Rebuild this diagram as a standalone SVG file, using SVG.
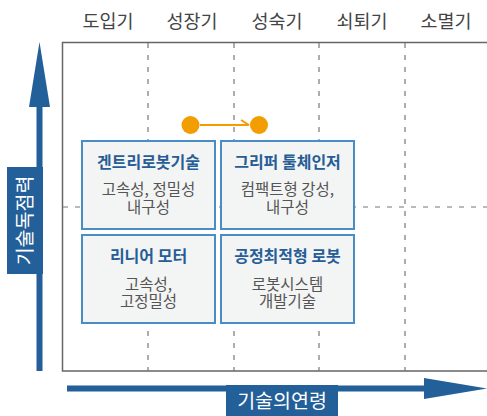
<svg xmlns="http://www.w3.org/2000/svg" width="487" height="416" viewBox="0 0 487 416">
<defs>
<style>
.grid{stroke:#777;stroke-width:1.2;stroke-dasharray:5,7;fill:none}
.stage{font-family:"Noto Sans CJK KR","Noto Sans",sans-serif;font-size:18.5px;fill:#444;text-anchor:middle}
.box{fill:#f3f4f4;stroke:#4a8cc4;stroke-width:2}
.title{font-family:"Noto Sans CJK KR",sans-serif;font-size:16px;font-weight:bold;fill:#275d96;text-anchor:middle}
.body{font-family:"Noto Sans CJK KR",sans-serif;font-size:15.5px;fill:#555;text-anchor:middle}
.axislabel{font-family:"Noto Sans CJK KR",sans-serif;font-size:19.5px;fill:#fff;text-anchor:middle}
</style>
<marker id="chev" markerWidth="12" markerHeight="12" refX="10" refY="6" orient="auto" markerUnits="userSpaceOnUse">
<path d="M2,1 L10,6" stroke="#f29d00" stroke-width="2" fill="none"/>
</marker>
</defs>
<rect width="487" height="416" fill="#fff"/>
<g id="stages">
<text class="stage" x="108" y="28">도입기</text>
<text class="stage" x="192" y="28">성장기</text>
<text class="stage" x="277" y="28">성숙기</text>
<text class="stage" x="362" y="28">쇠퇴기</text>
<text class="stage" x="446" y="28">소멸기</text>
</g>
<g id="frame">
<path d="M488,42.5 H62.5 V371 H488" fill="none" stroke="#666" stroke-width="1.5"/>
<line class="grid" x1="148" y1="43" x2="148" y2="371"/>
<line class="grid" x1="234" y1="43" x2="234" y2="371"/>
<line class="grid" x1="319" y1="43" x2="319" y2="371"/>
<line class="grid" x1="405" y1="43" x2="405" y2="371"/>
<line class="grid" x1="63" y1="207" x2="487" y2="207"/>
</g>
<g id="y-axis">
<line x1="39.5" y1="371" x2="39.5" y2="100" stroke="#235f98" stroke-width="6"/>
<polygon points="39.5,42 50,107 29,107" fill="#235f98"/>
<rect x="7" y="167" width="36" height="107" fill="#235f98"/>
<text class="axislabel" transform="translate(32,220.5) rotate(-90)">기술독점력</text>
</g>
<g id="x-axis">
<line x1="67" y1="388.5" x2="430" y2="388.5" stroke="#235f98" stroke-width="6"/>
<polygon points="487,388.5 424,378 424,399" fill="#235f98"/>
<rect x="226" y="385" width="112" height="31" fill="#235f98"/>
<text class="axislabel" x="282" y="408">기술의연령</text>
</g>
<g id="connectors">
<line x1="200" y1="125" x2="249" y2="125" stroke="#f29d00" stroke-width="2" marker-end="url(#chev)"/>
</g>
<g id="dot1"><circle cx="190.5" cy="125" r="9" fill="#f29d00"/></g>
<g id="dot2"><circle cx="259" cy="125" r="9" fill="#f29d00"/></g>
<g id="node-gantry">
<rect class="box" x="82" y="141" width="133" height="88"/>
<text class="title" x="148.5" y="167.5">겐트리로봇기술</text>
<text class="body" x="148.5" y="195">고속성, 정밀성</text>
<text class="body" x="148.5" y="213">내구성</text>
</g>
<g id="node-gripper">
<rect class="box" x="221" y="141" width="133" height="88"/>
<text class="title" x="287.5" y="167.5">그리퍼 툴체인저</text>
<text class="body" x="287.5" y="195">컴팩트형 강성,</text>
<text class="body" x="287.5" y="213">내구성</text>
</g>
<g id="node-linear">
<rect class="box" x="82" y="235" width="133" height="88"/>
<text class="title" x="148.5" y="261.5">리니어 모터</text>
<text class="body" x="148.5" y="290">고속성,</text>
<text class="body" x="148.5" y="307">고정밀성</text>
</g>
<g id="node-process">
<rect class="box" x="221" y="235" width="133" height="88"/>
<text class="title" x="287.5" y="261.5">공정최적형 로봇</text>
<text class="body" x="287.5" y="290">로봇시스템</text>
<text class="body" x="287.5" y="307">개발기술</text>
</g>
</svg>
